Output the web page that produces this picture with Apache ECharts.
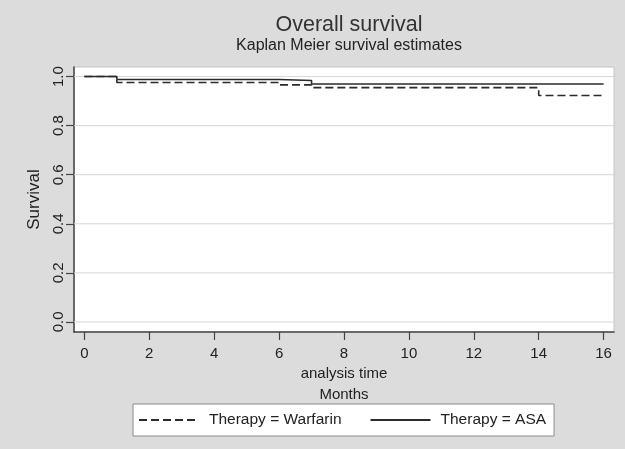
<!DOCTYPE html>
<html>
<head>
<meta charset="utf-8">
<script src="https://cdn.jsdelivr.net/npm/echarts@6/dist/echarts.min.js"></script>
<style>
html,body{margin:0;padding:0;background:#dcdcdc;}
#chart{width:625px;height:449px;}
</style>
</head>
<body>
<div id="chart"></div>
<script>
const titleText = 'Overall survival';
const subtitleText = 'Kaplan Meier survival estimates';
const xTicks = [0, 2, 4, 6, 8, 10, 12, 14, 16];
const yTicks = [0, 0.2, 0.4, 0.6, 0.8, 1.0];
const timeWarfarin = [0, 1, 6, 7, 14, 16];
const survWarfarin = [1.0, 0.976, 0.966, 0.955, 0.923, 0.923];
const timeASA = [0, 1, 6, 7, 16];
const survASA = [1.0, 0.988, 0.984, 0.970, 0.970];
const seriesNames = ['Therapy = Warfarin', 'Therapy = ASA'];

const FONT = '"Liberation Sans", Arial, sans-serif';
const INK = '#2b2b2b';
const X_MIN = -0.32, X_MAX = 16.32;

const gridSeries = yTicks.map((v, i) => ({
  name: 'grid' + i, type: 'line', z: 1, silent: true, showSymbol: false, symbol: 'none',
  data: [[X_MIN, v], [X_MAX, v]],
  lineStyle: {color: '#d6d6d6', width: 1, type: 'solid'},
  emphasis: {disabled: true}, tooltip: {show: false}
}));

const chart = echarts.init(document.getElementById('chart'));
chart.setOption({
  backgroundColor: '#dcdcdc',
  animation: false,
  title: [
    {text: titleText, left: 344, top: 9, textAlign: 'center',
     textStyle: {fontFamily: FONT, fontSize: 21.5, fontWeight: 'normal', color: '#333'}},
    {text: subtitleText, left: 344, top: 33, textAlign: 'center',
     textStyle: {fontFamily: FONT, fontSize: 16, fontWeight: 'normal', color: '#222'}}
  ],
  grid: {left: 74, right: 11, top: 67, bottom: 117, show: true,
    backgroundColor: '#ffffff', borderColor: '#c4c4c4', borderWidth: 1},
  legend: {
    data: seriesNames, left: 133, top: 404,
    backgroundColor: '#ffffff', borderColor: '#8a8a8a', borderWidth: 1,
    padding: [8, 8, 8, 5], itemGap: 28, itemWidth: 60, itemHeight: 14,
    itemStyle: {opacity: 0},
    textStyle: {fontFamily: FONT, fontSize: 15.5, color: '#222', padding: [0, 0, 0, 5]}
  },
  xAxis: {
    type: 'value', min: X_MIN, max: X_MAX,
    name: 'analysis time\nMonths', nameLocation: 'middle', nameGap: 31, nameMoveOverlap: false,
    nameTextStyle: {fontFamily: FONT, fontSize: 15, color: '#222', lineHeight: 21},
    axisLine: {show: true, onZero: false, lineStyle: {color: '#444', width: 1.5}},
    axisTick: {show: true, length: 8, customValues: xTicks, lineStyle: {color: '#444', width: 1.2}},
    axisLabel: {customValues: xTicks, margin: 14, fontFamily: FONT, fontSize: 15, color: '#222'},
    splitLine: {show: false}
  },
  yAxis: {
    type: 'value', min: -0.041, max: 1.039,
    name: 'Survival', nameLocation: 'middle', nameGap: 31, nameMoveOverlap: false,
    nameTextStyle: {fontFamily: FONT, fontSize: 17, color: '#222'},
    axisLine: {show: true, onZero: false, lineStyle: {color: '#444', width: 1.5}},
    axisTick: {show: true, length: 8, customValues: yTicks, lineStyle: {color: '#444', width: 1.2}},
    axisLabel: {customValues: yTicks, rotate: 90, margin: 8, fontFamily: FONT, fontSize: 15, color: '#222',
      formatter: v => v.toFixed(1)},
    splitLine: {show: false}
  },
  series: gridSeries.concat([
    {
      name: seriesNames[0], type: 'line', step: 'end', showSymbol: false, symbol: 'none', z: 3,
      data: timeWarfarin.map((t, i) => [t, survWarfarin[i]]),
      lineStyle: {color: INK, width: 1.6, type: [8, 4]},
      itemStyle: {color: INK}
    },
    {
      name: seriesNames[1], type: 'line', step: 'end', showSymbol: false, symbol: 'none', z: 4,
      data: timeASA.map((t, i) => [t, survASA[i]]),
      lineStyle: {color: INK, width: 1.6, type: 'solid'},
      itemStyle: {color: INK}
    }
  ])
});
</script>
</body>
</html>
